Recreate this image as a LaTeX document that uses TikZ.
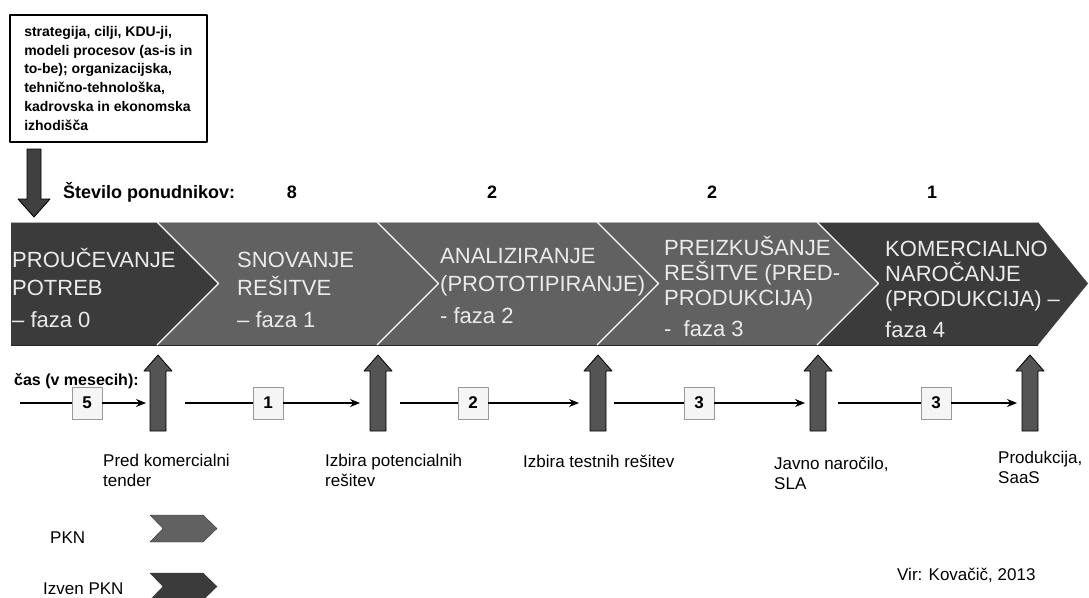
\documentclass[tikz,border=0pt]{standalone}
\usepackage{fontspec}
\setmainfont{Liberation Sans}
\usetikzlibrary{arrows.meta}
\begin{document}
\begin{tikzpicture}[x=1pt,y=-1pt,>={Stealth[length=10pt,width=8pt]},line join=round,
		ciemna/.style={fill=black!77},
		jasna/.style={fill=black!62},
		faza/.style={text=black!8,align=left,anchor=base west,inner sep=0pt,font=\fontsize{22}{28}\selectfont},
		faza4/.style={faza,font=\fontsize{22}{25}\selectfont},
		mesec/.style={draw=black!40,fill=black!4,minimum width=30pt,minimum height=32pt,inner sep=0pt,font=\bfseries\fontsize{17}{17}\selectfont},
		oznaka/.style={anchor=base west,align=left,inner sep=0pt,font=\fontsize{17}{20}\selectfont}]
	\fill[white] (0,0) rectangle (1089,597);
	\useasboundingbox (0,0) rectangle (1089,597);
	% izhodisca
	\node[draw,line width=1.6pt,anchor=north west,minimum width=197pt,minimum height=127pt,align=left,
		font=\bfseries\fontsize{14}{18.8}\selectfont] (izh) at (9,14)
		{strategija, cilji, KDU-ji,\\modeli procesov (as-is in\\to-be); organizacijska,\\tehnično-tehnološka,\\kadrovska in ekonomska\\izhodišča};
	\draw[fill=black!75,line width=0.8pt] (27,149) -- (41,149) -- (41,199) -- (50,199) -- (34,217) -- (18,199) -- (27,199) -- cycle;
	\node[anchor=base west,inner sep=0pt,font=\bfseries\fontsize{18}{18}\selectfont] (ponud) at (63,198) {Število ponudnikov:};
	\foreach \x/\n in {292/8,492/2,712/2,932/1}
	\node[anchor=base,inner sep=0pt,font=\bfseries\fontsize{18}{18}\selectfont] (st\x) at (\x,198) {\n};
	% faze
	\fill[ciemna] (11,222) -- (157,222) -- (218.5,283.5) -- (157,345) -- (11,345) -- cycle;
	\foreach \i in {0,1,2}
	\fill[jasna] ({157+220*\i},222) -- ({377+220*\i},222) -- ({438.5+220*\i},283.5) -- ({377+220*\i},345) -- ({157+220*\i},345) -- ({218.5+220*\i},283.5) -- cycle;
	\fill[ciemna] (817,222) -- (1038,222) -- (1088,283.5) -- (1038,345) -- (817,345) -- (878.5,283.5) -- cycle;
	\draw[black!30,line width=1pt] (11,222) -- (1038,222);
	\draw[black!85,line width=1pt] (11,345) -- (1038,345);
	\foreach \i in {0,...,3}
	\draw[white,line width=1.2pt] ({157+220*\i},222) -- ({218.5+220*\i},283.5) -- ({157+220*\i},345);
	\node[faza] (f0) at (12,327) {PROUČEVANJE\\POTREB\\[4pt]– faza 0};
	\node[faza] (f1) at (237,327) {SNOVANJE\\REŠITVE\\[4pt]– faza 1};
	\node[faza] (f2) at (440,323) {ANALIZIRANJE\\(PROTOTIPIRANJE)\\[4pt]- faza 2};
	\node[faza4] (f3) at (664,336) {PREIZKUŠANJE\\REŠITVE (PRED-\\PRODUKCIJA)\\[6pt]-\ \ faza 3};
	\node[faza4] (f4) at (885,337) {KOMERCIALNO\\NAROČANJE\\(PRODUKCIJA) –\\[6pt]faza 4};
	% mejniki
	\foreach \x in {158,378,598,818,1030}
	\draw[fill=black!67,line width=0.8pt] ({\x-8},431) -- ({\x-8},371) -- ({\x-14},371) -- (\x,355) -- ({\x+14},371) -- ({\x+8},371) -- ({\x+8},431) -- cycle;
	\node[anchor=base west,inner sep=0pt,font=\bfseries\fontsize{16}{16}\selectfont] (cas) at (14,385) {čas (v mesecih):};
	\foreach \a/\c/\b/\n [count=\k] in {20/87/146/5,185/268/360/1,400/473/579/2,614/699/805/3,838/936/1017/3}{
		\coordinate (z\k) at (\a,403);
		\coordinate (k\k) at (\b,403);
		\node[mesec] (m\k) at (\c,403) {\n};
		\draw[line width=1.2pt] (z\k) -- (m\k);
		\draw[line width=1.2pt,->] (m\k) -- (k\k);
	}
	\node[oznaka] (o1) at (103,486) {Pred komercialni\\tender};
	\node[oznaka] (o2) at (325,486) {Izbira potencialnih\\rešitev};
	\node[oznaka] (o3) at (523,467) {Izbira testnih rešitev};
	\node[oznaka] (o4) at (774,489) {Javno naročilo,\\SLA};
	\node[oznaka] (o5) at (998,483) {Produkcija,\\SaaS};
	% legenda
	\begin{scope}
		\clip (0,0) rectangle (1089,597);
		\draw[jasna,draw=black!80] (150,515) -- (203,515) -- (217,528.5) -- (203,542) -- (150,542) -- (163,528.5) -- cycle;
		\draw[ciemna,draw=black!80] (150,573) -- (203,573) -- (217,586.5) -- (203,600) -- (150,600) -- (163,586.5) -- cycle;
	\end{scope}
	\node[oznaka] (pkn) at (50,543) {PKN};
	\node[oznaka] (izven) at (43,594) {Izven PKN};
	\node[oznaka] (vir) at (897,580) {Vir: Kovačič, 2013};
\end{tikzpicture}
\end{document}
